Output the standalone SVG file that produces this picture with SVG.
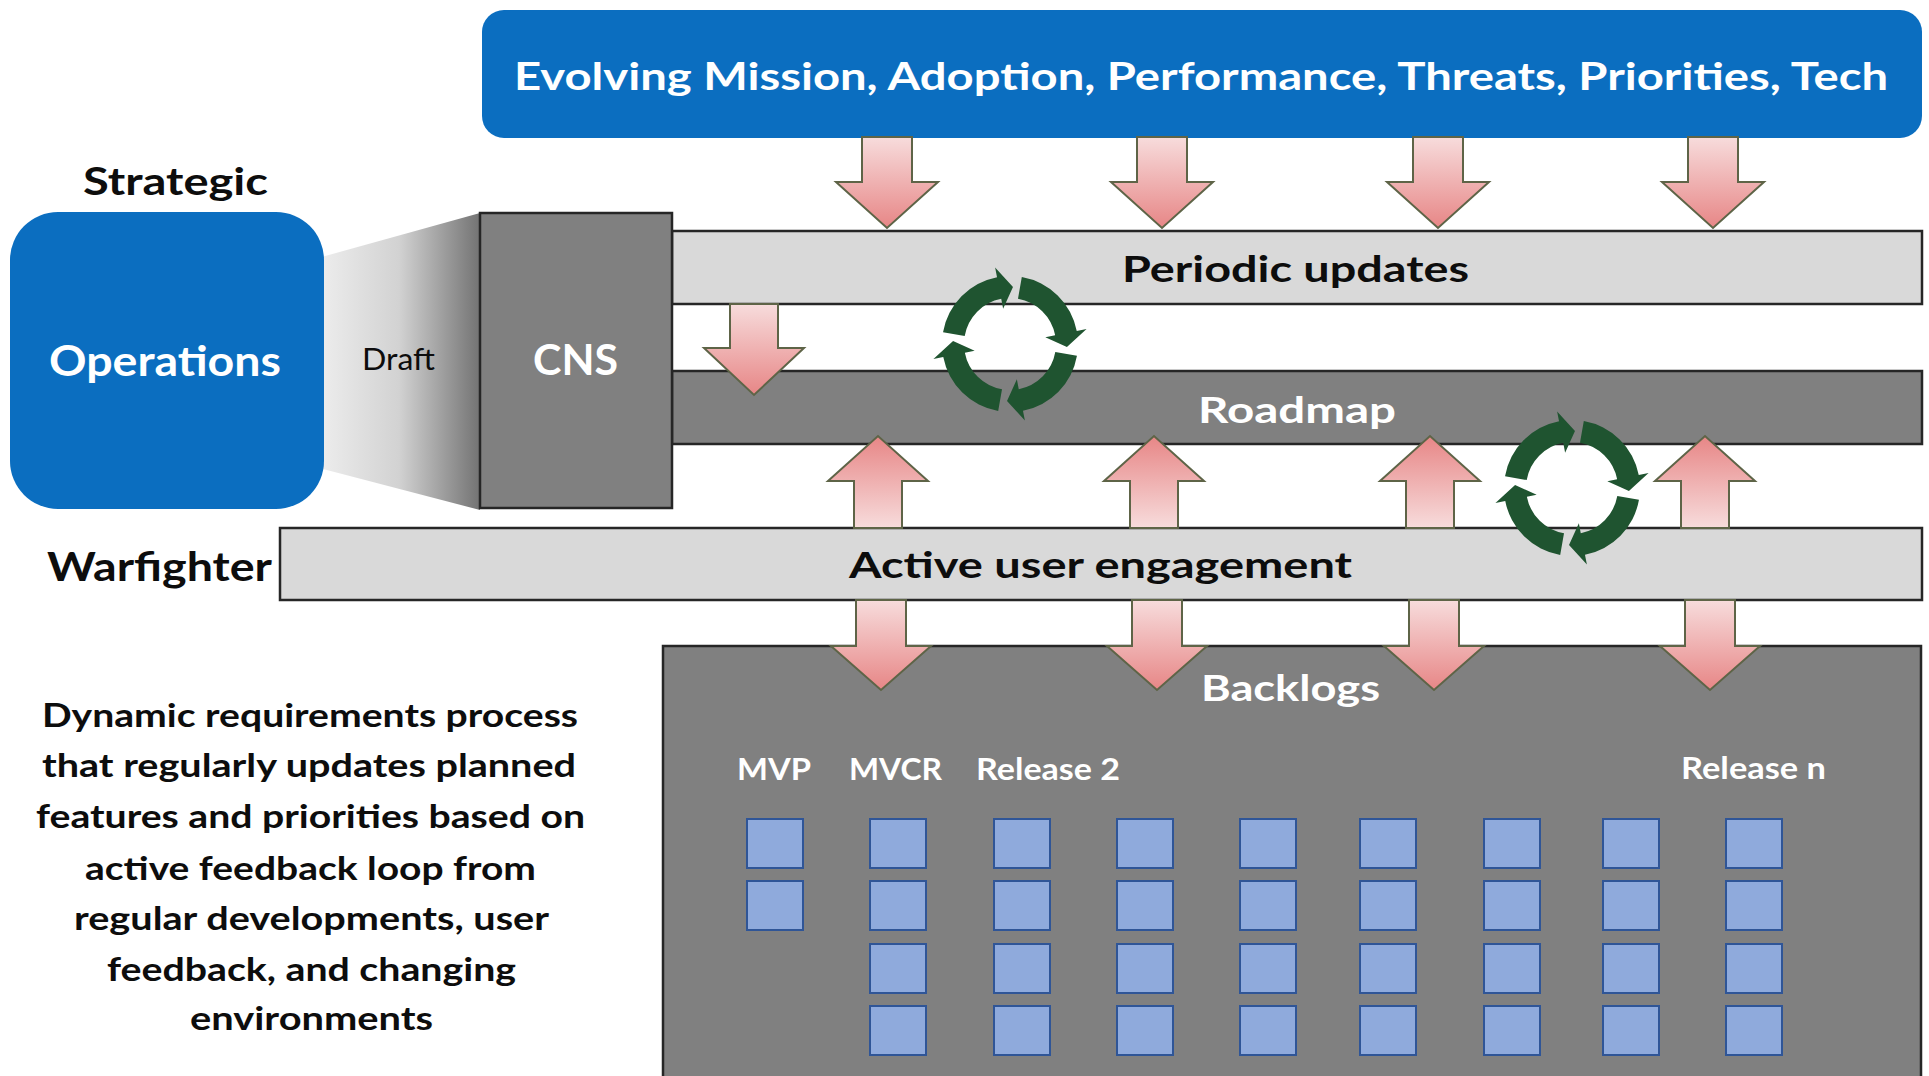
<svg xmlns="http://www.w3.org/2000/svg" xmlns:xlink="http://www.w3.org/1999/xlink" width="1929" height="1076" viewBox="0 0 1929 1076">
<defs>
<style>
.t{font-family:Lato,"Open Sans","Liberation Sans",sans-serif;font-weight:700}
.w{fill:#ffffff}
.k{fill:#0d0d0d}
.blue{fill:#0B6EC0}
.bar{stroke:#262626;stroke-width:2.5}
.light{fill:#D9D9D9}
.dark{fill:#808080}
.sq{fill:#8FAADC;stroke:#2F5597;stroke-width:2}
.ad{fill:url(#gDown);stroke:#5E6447;stroke-width:2;stroke-linejoin:miter}
.au{fill:url(#gUp);stroke:#5E6447;stroke-width:2;stroke-linejoin:miter}
.cyc{fill:#1F5430}
</style>
<linearGradient id="gDown" x1="0" y1="0" x2="0" y2="1">
<stop offset="0" stop-color="#F7DCDC"/>
<stop offset="1" stop-color="#E78686"/>
</linearGradient>
<linearGradient id="gUp" x1="0" y1="1" x2="0" y2="0">
<stop offset="0" stop-color="#F7DCDC"/>
<stop offset="1" stop-color="#E78686"/>
</linearGradient>
<linearGradient id="gFan" x1="0" y1="0" x2="1" y2="0">
<stop offset="0" stop-color="#F4F4F4"/>
<stop offset="0.55" stop-color="#D2D2D2"/>
<stop offset="1" stop-color="#737373"/>
</linearGradient>
<path id="seg" class="cyc" d="M -66.97 -11.81 A 68 68 0 0 1 -12.97 -66.75 L -14.88 -76.57 L 2.98 -56.92 L -6.87 -35.34 L -8.78 -45.15 A 46 46 0 0 0 -45.30 -7.99 Z"/>
<g id="cycle">
<use xlink:href="#seg"/>
<use xlink:href="#seg" transform="rotate(90)"/>
<use xlink:href="#seg" transform="rotate(180)"/>
<use xlink:href="#seg" transform="rotate(270)"/>
</g>
</defs>
<rect x="0" y="0" width="1929" height="1076" fill="#ffffff"/>

<g id="draft-fan">
<polygon points="300,263 480,213 480,510 300,463" fill="url(#gFan)"/>
<text x="362" y="370" font-family="Lato,'Open Sans','Liberation Sans',sans-serif" font-size="31" font-weight="400" fill="#0d0d0d" textLength="73" lengthAdjust="spacingAndGlyphs">Draft</text>
</g>

<g id="evolving">
<rect class="blue" x="482" y="10" width="1440" height="128" rx="22" ry="22"/>
<text class="t w" x="514" y="90" font-size="38" textLength="1374" lengthAdjust="spacingAndGlyphs">Evolving Mission, Adoption, Performance, Threats, Priorities, Tech</text>
</g>

<g id="strategic-label">
<text class="t k" x="83" y="195" font-size="38" textLength="185" lengthAdjust="spacingAndGlyphs">Strategic</text>
</g>

<g id="operations">
<rect class="blue" x="10" y="212" width="314" height="297" rx="48" ry="48"/>
<text class="t w" x="49" y="376" font-size="42" textLength="232" lengthAdjust="spacingAndGlyphs">Operations</text>
</g>

<g id="periodic-updates">
<rect class="bar light" x="672" y="231" width="1250" height="73"/>
<text class="t k" x="1122" y="282" font-size="37" textLength="347" lengthAdjust="spacingAndGlyphs">Periodic updates</text>
</g>

<g id="roadmap">
<rect class="bar dark" x="672" y="371" width="1250" height="73"/>
<text class="t w" x="1198" y="423" font-size="36" textLength="198" lengthAdjust="spacingAndGlyphs">Roadmap</text>
</g>

<g id="cns">
<rect class="bar dark" x="480" y="213" width="192" height="295"/>
<text class="t w" x="533" y="375" font-size="42" textLength="85" lengthAdjust="spacingAndGlyphs">CNS</text>
</g>

<g id="warfighter-label">
<text class="t k" x="47" y="581" font-size="40" textLength="225" lengthAdjust="spacingAndGlyphs">Warfighter</text>
</g>

<g id="active-user-engagement">
<rect class="bar light" x="280" y="528" width="1642" height="72"/>
<text class="t k" x="849" y="578" font-size="37" textLength="503" lengthAdjust="spacingAndGlyphs">Active user engagement</text>
</g>

<g id="backlogs">
<rect class="bar dark" x="663" y="646" width="1258" height="450"/>
<text class="t w" x="1201" y="701" font-size="37" textLength="179" lengthAdjust="spacingAndGlyphs">Backlogs</text>
<text class="t w" x="737" y="780" font-size="30" textLength="74" lengthAdjust="spacingAndGlyphs">MVP</text>
<text class="t w" x="849" y="780" font-size="30" textLength="93" lengthAdjust="spacingAndGlyphs">MVCR</text>
<text class="t w" x="976" y="780" font-size="30" textLength="144" lengthAdjust="spacingAndGlyphs">Release 2</text>
<text class="t w" x="1681" y="779" font-size="30" textLength="145" lengthAdjust="spacingAndGlyphs">Release n</text>
</g>

<g id="backlog-items">
<rect class="sq" x="747" y="819" width="56" height="49"/>
<rect class="sq" x="747" y="881" width="56" height="49"/>

<rect class="sq" x="870" y="819" width="56" height="49"/>
<rect class="sq" x="870" y="881" width="56" height="49"/>
<rect class="sq" x="870" y="944" width="56" height="49"/>
<rect class="sq" x="870" y="1006" width="56" height="49"/>

<rect class="sq" x="994" y="819" width="56" height="49"/>
<rect class="sq" x="994" y="881" width="56" height="49"/>
<rect class="sq" x="994" y="944" width="56" height="49"/>
<rect class="sq" x="994" y="1006" width="56" height="49"/>

<rect class="sq" x="1117" y="819" width="56" height="49"/>
<rect class="sq" x="1117" y="881" width="56" height="49"/>
<rect class="sq" x="1117" y="944" width="56" height="49"/>
<rect class="sq" x="1117" y="1006" width="56" height="49"/>

<rect class="sq" x="1240" y="819" width="56" height="49"/>
<rect class="sq" x="1240" y="881" width="56" height="49"/>
<rect class="sq" x="1240" y="944" width="56" height="49"/>
<rect class="sq" x="1240" y="1006" width="56" height="49"/>

<rect class="sq" x="1360" y="819" width="56" height="49"/>
<rect class="sq" x="1360" y="881" width="56" height="49"/>
<rect class="sq" x="1360" y="944" width="56" height="49"/>
<rect class="sq" x="1360" y="1006" width="56" height="49"/>

<rect class="sq" x="1484" y="819" width="56" height="49"/>
<rect class="sq" x="1484" y="881" width="56" height="49"/>
<rect class="sq" x="1484" y="944" width="56" height="49"/>
<rect class="sq" x="1484" y="1006" width="56" height="49"/>

<rect class="sq" x="1603" y="819" width="56" height="49"/>
<rect class="sq" x="1603" y="881" width="56" height="49"/>
<rect class="sq" x="1603" y="944" width="56" height="49"/>
<rect class="sq" x="1603" y="1006" width="56" height="49"/>

<rect class="sq" x="1726" y="819" width="56" height="49"/>
<rect class="sq" x="1726" y="881" width="56" height="49"/>
<rect class="sq" x="1726" y="944" width="56" height="49"/>
<rect class="sq" x="1726" y="1006" width="56" height="49"/>
</g>

<g id="connectors">
<polygon class="ad" points="862,137 912,137 912,182 938,182 887,228 836,182 862,182"/>
<polygon class="ad" points="1137,137 1187,137 1187,182 1213,182 1162,228 1111,182 1137,182"/>
<polygon class="ad" points="1413,137 1463,137 1463,182 1489,182 1438,228 1387,182 1413,182"/>
<polygon class="ad" points="1688,137 1738,137 1738,182 1764,182 1713,228 1662,182 1688,182"/>

<polygon class="ad" points="730,304 778,304 778,348 804,348 754,395 704,348 730,348"/>

<polygon class="au" points="854,528 902,528 902,481 928,481 878,436 828,481 854,481"/>
<polygon class="au" points="1130,528 1178,528 1178,481 1204,481 1154,436 1104,481 1130,481"/>
<polygon class="au" points="1406,528 1454,528 1454,481 1480,481 1430,436 1380,481 1406,481"/>
<polygon class="au" points="1681,528 1729,528 1729,481 1755,481 1705,436 1655,481 1681,481"/>

<polygon class="ad" points="856,600 906,600 906,646 931,646 881,690 831,646 856,646"/>
<polygon class="ad" points="1132,600 1182,600 1182,646 1207,646 1157,690 1107,646 1132,646"/>
<polygon class="ad" points="1409,600 1459,600 1459,646 1484,646 1434,690 1384,646 1409,646"/>
<polygon class="ad" points="1685,600 1735,600 1735,646 1760,646 1710,690 1660,646 1685,646"/>
</g>

<g id="cycle-upper">
<use xlink:href="#cycle" transform="translate(1010,344)"/>
</g>
<g id="cycle-lower">
<use xlink:href="#cycle" transform="translate(1572,488)"/>
</g>

<g id="description">
<text class="t k" x="42" y="727" font-size="33" textLength="536" lengthAdjust="spacingAndGlyphs">Dynamic requirements process</text>
<text class="t k" x="42" y="777" font-size="33" textLength="534" lengthAdjust="spacingAndGlyphs">that regularly updates planned</text>
<text class="t k" x="36" y="828" font-size="33" textLength="549" lengthAdjust="spacingAndGlyphs">features and priorities based on</text>
<text class="t k" x="85" y="880" font-size="33" textLength="451" lengthAdjust="spacingAndGlyphs">active feedback loop from</text>
<text class="t k" x="74" y="930" font-size="33" textLength="475" lengthAdjust="spacingAndGlyphs">regular developments, user</text>
<text class="t k" x="107" y="981" font-size="33" textLength="409" lengthAdjust="spacingAndGlyphs">feedback, and changing</text>
<text class="t k" x="190" y="1030" font-size="33" textLength="243" lengthAdjust="spacingAndGlyphs">environments</text>
</g>
</svg>
